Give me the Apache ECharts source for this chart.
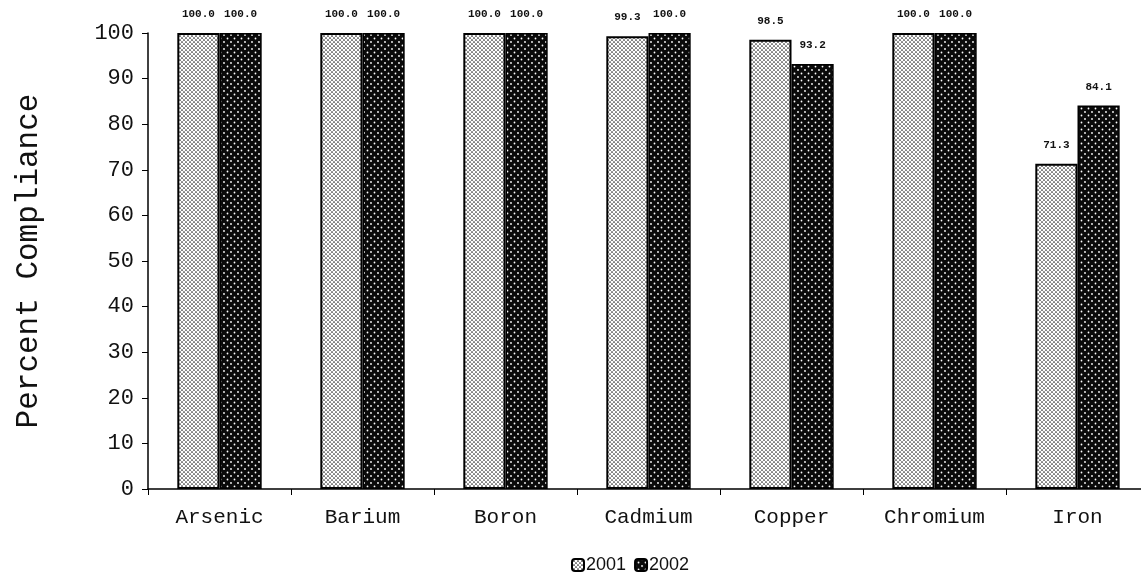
<!DOCTYPE html>
<html>
<head>
<meta charset="utf-8">
<script src="https://cdn.jsdelivr.net/npm/echarts@6/dist/echarts.min.js"></script>
<style>
html,body{margin:0;padding:0;background:#fff;}
#chart{width:1141px;height:583px;}
</style>
</head>
<body>
<div id="chart"></div>
<script>
const categories = ['Arsenic', 'Barium', 'Boron', 'Cadmium', 'Copper', 'Chromium', 'Iron'];
const values2001 = [100.0, 100.0, 100.0, 99.3, 98.5, 100.0, 71.3];
const values2002 = [100.0, 100.0, 100.0, 100.0, 93.2, 100.0, 84.1];
const yTicks = [0, 10, 20, 30, 40, 50, 60, 70, 80, 90, 100];

function makePattern(bg, fg, pitch, r) {
  const c = document.createElement('canvas');
  c.width = pitch * 2; c.height = pitch * 2;
  const g = c.getContext('2d');
  g.fillStyle = bg; g.fillRect(0, 0, c.width, c.height);
  g.fillStyle = fg;
  const pts = [[0,0],[2*pitch,0],[0,2*pitch],[2*pitch,2*pitch],[pitch,pitch]];
  pts.forEach(p => { g.beginPath(); g.arc(p[0], p[1], r, 0, Math.PI*2); g.fill(); });
  return c;
}
const pat2001 = makePattern('#ffffff', '#222222', 2, 0.85);
const pat2002 = makePattern('#0a0a0a', '#ffffff', 3.5, 0.9);

const mono = '"Liberation Mono", "DejaVu Sans Mono", monospace';
const chart = echarts.init(document.getElementById('chart'));
const labelCfg = {
  show: true, position: 'top', distance: 13,
  fontFamily: mono, fontSize: 11, fontWeight: 'bold', color: '#111',
  formatter: p => p.value.toFixed(1)
};
chart.setOption({
  animation: false,
  backgroundColor: '#fff',
  grid: { left: 148, width: 1001, top: 33, bottom: 94, containLabel: false, outerBoundsMode: 'none' },
  legend: {
    bottom: 4, left: 566,
    itemWidth: 12, itemHeight: 12, itemGap: 8,
    textStyle: { fontFamily: '"Liberation Sans", Arial, sans-serif', fontSize: 18, color: '#111', padding: [0,0,0,-3] },
    data: ['2001', '2002']
  },
  xAxis: {
    type: 'category', data: categories,
    axisLine: { lineStyle: { color: '#000', width: 1.5 } },
    axisTick: { show: true, length: 6, lineStyle: { color: '#000' } },
    axisLabel: { fontFamily: mono, fontSize: 21, color: '#111', margin: 18 }
  },
  yAxis: {
    type: 'value', min: 0, max: 100, interval: 10,
    name: 'Percent Compliance', nameLocation: 'middle', nameGap: 104, nameRotate: 90,
    nameTextStyle: { fontFamily: mono, fontSize: 31, color: '#111' },
    splitLine: { show: false },
    axisLine: { show: true, lineStyle: { color: '#000', width: 1.5 } },
    axisTick: { show: true, length: 6, lineStyle: { color: '#000' } },
    axisLabel: { fontFamily: mono, fontSize: 22, color: '#111', margin: 14,
      formatter: v => yTicks.indexOf(v) >= 0 ? String(v) : '' }
  },
  series: [
    {
      name: '2001', type: 'bar', data: values2001,
      barGap: '0%', barCategoryGap: '41%',
      itemStyle: { color: { image: pat2001, repeat: 'repeat' }, borderColor: '#000', borderWidth: 2 },
      label: labelCfg
    },
    {
      name: '2002', type: 'bar', data: values2002,
      itemStyle: { color: { image: pat2002, repeat: 'repeat' }, borderColor: '#000', borderWidth: 1.5 },
      label: labelCfg
    }
  ]
});
</script>
</body>
</html>
